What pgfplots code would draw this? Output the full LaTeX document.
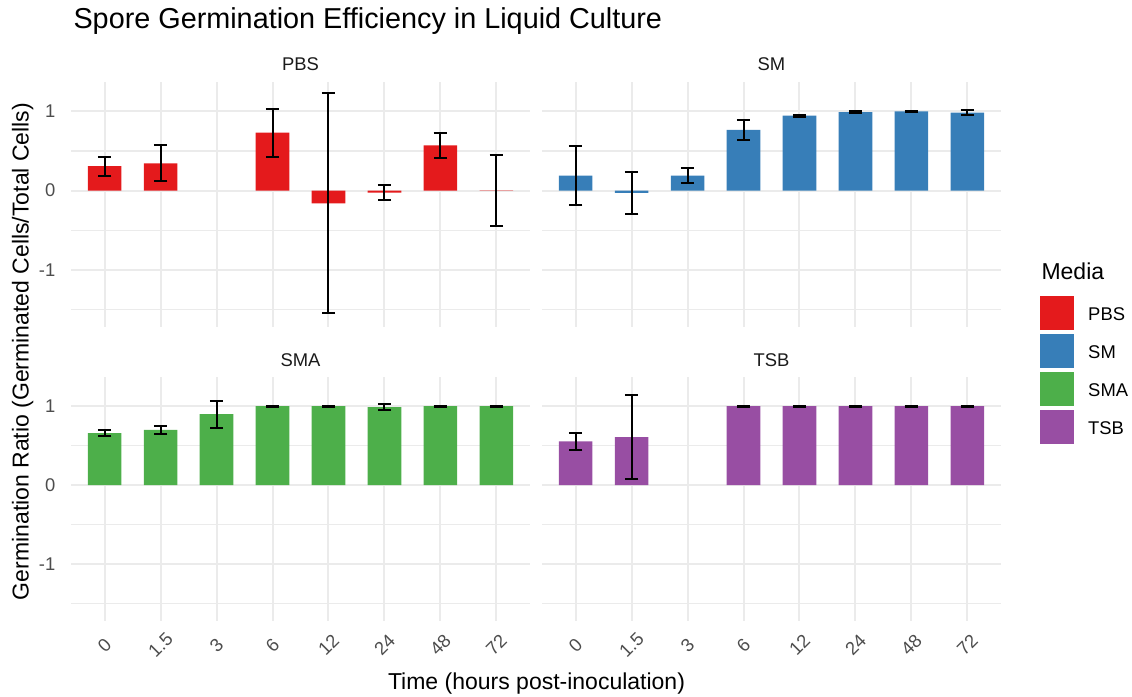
\documentclass[border=0pt]{standalone}
\usepackage{fontspec}
\setmainfont{Liberation Sans}
\usepackage{pgfplots}
\pgfplotsset{compat=1.18}
\definecolor{pbs}{HTML}{E41A1C}
\definecolor{sm}{HTML}{377EB8}
\definecolor{sma}{HTML}{4DAF4A}
\definecolor{tsb}{HTML}{984EA3}
\definecolor{gridc}{HTML}{EBEBEB}
\definecolor{tickc}{HTML}{4D4D4D}
\definecolor{stripc}{HTML}{1A1A1A}
\pgfplotsset{
  facet/.style={
    scale only axis, width=459pt, height=245pt,
    xmin=0.4, xmax=8.6, ymin=-1.72, ymax=1.37,
    axis line style={draw=none},
    major tick length=0pt, minor tick length=0pt,
    tick style={draw=none},
    xtick={1,2,3,4,5,6,7,8}, ytick={-1,0,1}, minor ytick={-1.5,-0.5,0.5},
    xmajorgrids, ymajorgrids, yminorgrids,
    major grid style={gridc, line width=2pt},
    minor grid style={gridc, line width=1.1pt},
    xticklabels={}, yticklabels={},
    ticklabel style={font=\fontsize{18.4}{22}\selectfont, text=tickc},
    yticklabel style={anchor=east, inner sep=0pt, xshift=-15.5pt},
    xticklabel style={yshift=-24pt, rotate=45, anchor=center, inner sep=0pt},
    clip=false,
  },
  bars/.style={ybar, bar width=0.6, bar shift=0pt, draw=none, fill=#1,
    /pgfplots/error bars/y dir=both, /pgfplots/error bars/y explicit,
    /pgfplots/error bars/error mark=|,
    /pgfplots/error bars/error bar style={black, line width=2pt},
    /pgfplots/error bars/error mark options={black, line width=2pt, mark size=6.7pt}},
}
\begin{document}
\begin{tikzpicture}
\useasboundingbox (0,0) rectangle (1132pt,696pt);
% PBS
\begin{axis}[facet, at={(71pt,369pt)}, anchor=south west, yticklabels={-1,0,1}]
\addplot[bars=pbs] coordinates {
  (1,0.31) +- (0,0.12)
  (2,0.345) +- (0,0.225)
  (4,0.73) +- (0,0.30)
  (5,-0.16) +- (0,1.385)
  (6,-0.025) +- (0,0.095)
  (7,0.57) +- (0,0.16)
  (8,0.004) +- (0,0.445)
};
\end{axis}
% SM
\begin{axis}[facet, at={(542pt,369pt)}, anchor=south west,
  legend style={at={(1.085,0.1265)}, anchor=north west, draw=none, fill=none,
    inner sep=0pt, row sep=4pt, font=\fontsize{18.4}{22}\selectfont,
    nodes={inner sep=0pt}},
  legend image code/.code={\fill[#1] (0pt,-15.4pt) rectangle (34pt,18.6pt); \path (48pt,0pt);},
  legend cell align=left]
\addplot[forget plot, bars=sm] coordinates {
  (1,0.19) +- (0,0.37)
  (2,-0.03) +- (0,0.27)
  (3,0.19) +- (0,0.10)
  (4,0.765) +- (0,0.13)
  (5,0.945) +- (0,0.015)
  (6,0.99) +- (0,0.01)
  (7,1.0) +- (0,0.005)
  (8,0.985) +- (0,0.035)
};
\addlegendimage{fill=pbs, draw=none}\addlegendentry{PBS}
\addlegendimage{fill=sm, draw=none}\addlegendentry{SM}
\addlegendimage{fill=sma, draw=none}\addlegendentry{SMA}
\addlegendimage{fill=tsb, draw=none}\addlegendentry{TSB}
\end{axis}
% SMA
\begin{axis}[facet, at={(71pt,75pt)}, anchor=south west, height=244pt, yticklabels={-1,0,1},
  xticklabels={0,1.5,3,6,12,24,48,72}]
\addplot[bars=sma] coordinates {
  (1,0.66) +- (0,0.04)
  (2,0.70) +- (0,0.05)
  (3,0.90) +- (0,0.17)
  (4,1.0) +- (0,0.005)
  (5,1.0) +- (0,0.005)
  (6,0.99) +- (0,0.035)
  (7,1.0) +- (0,0.005)
  (8,1.0) +- (0,0.005)
};
\end{axis}
% TSB
\begin{axis}[facet, at={(542pt,75pt)}, anchor=south west, height=244pt,
  xticklabels={0,1.5,3,6,12,24,48,72}]
\addplot[bars=tsb] coordinates {
  (1,0.555) +- (0,0.11)
  (2,0.61) +- (0,0.53)
  (4,1.0) +- (0,0.005)
  (5,1.0) +- (0,0.005)
  (6,1.0) +- (0,0.005)
  (7,1.0) +- (0,0.005)
  (8,1.0) +- (0,0.005)
};
\end{axis}
% texts
\node[anchor=base west, font=\fontsize{28.8}{34}\selectfont] at (70pt,667pt) {Spore Germination Efficiency in Liquid Culture};
\node[anchor=base, font=\fontsize{18.4}{22}\selectfont, text=stripc] at (300.5pt,625.5pt) {PBS};
\node[anchor=base, font=\fontsize{18.4}{22}\selectfont, text=stripc] at (771.5pt,625.5pt) {SM};
\node[anchor=base, font=\fontsize{18.4}{22}\selectfont, text=stripc] at (300.5pt,329pt) {SMA};
\node[anchor=base, font=\fontsize{18.4}{22}\selectfont, text=stripc] at (771.5pt,329pt) {TSB};
\node[anchor=base, font=\fontsize{23}{27}\selectfont] at (536.5pt,7pt) {Time (hours post-inoculation)};
\node[anchor=base, rotate=90, font=\fontsize{23}{27}\selectfont] at (28.5pt,344.5pt) {Germination Ratio (Germinated Cells/Total Cells)};
\node[anchor=base west, font=\fontsize{23}{27}\selectfont] at (1038pt,416pt) {Media};
\end{tikzpicture}
\end{document}
